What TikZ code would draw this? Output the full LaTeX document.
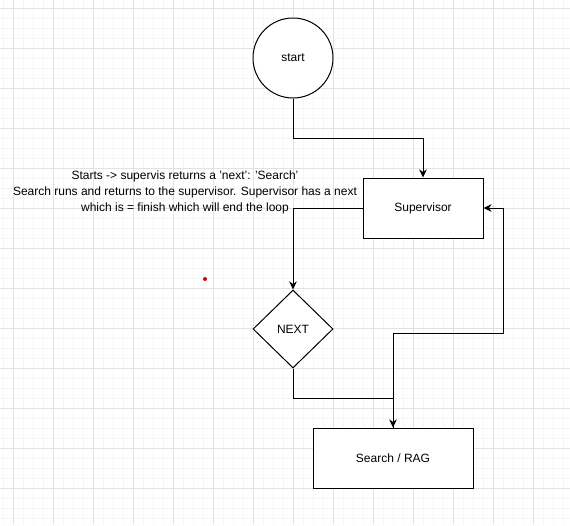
\documentclass[tikz,border=0pt]{standalone}
\usepackage{fontspec}
\setmainfont{Liberation Sans}
\usetikzlibrary{shapes.geometric,arrows.meta}

\definecolor{gridminor}{HTML}{F6F6F6}
\definecolor{gridmajor}{HTML}{E2E2E2}

\tikzset{
  box/.style={draw, line width=1pt, fill=white, rectangle, inner sep=0pt},
  roundnode/.style={draw, line width=1pt, fill=white, circle, inner sep=0pt, minimum size=80pt},
  decision/.style={draw, line width=1pt, fill=white, diamond, inner sep=0pt, minimum width=80pt, minimum height=78pt},
  flow/.style={line width=1pt, -{Stealth[length=8pt, width=7.5pt, inset=2.5pt]}},
  lbl/.style={font=\fontsize{12}{14}\selectfont},
  note/.style={align=center, font=\fontsize{12}{16}\selectfont, inner sep=0pt},
}

\begin{document}
\begin{tikzpicture}[x=1pt, y=-1pt]
  \useasboundingbox (0,0) rectangle (570,525);
  \fill[white] (0,0) rectangle (570,525);

  % background grid: light lines every 10, stronger every 40
  \foreach \x in {3,13,...,570} \draw[gridminor, line width=0.8pt] (\x,0) -- (\x,525);
  \foreach \y in {-2,8,...,525} \draw[gridminor, line width=0.8pt] (0,\y) -- (570,\y);
  \foreach \x in {13,53,...,570} \draw[gridmajor, line width=0.8pt] (\x,0) -- (\x,525);
  \foreach \y in {8,48,...,525} \draw[gridmajor, line width=0.8pt] (0,\y) -- (570,\y);

  % nodes
  \node[roundnode, lbl] (start) at (293,58) {start};
  \node[box, lbl, minimum width=120pt, minimum height=60pt] (sup) at (423,208) {Supervisor};
  \node[decision, lbl] (next) at (293,329) {NEXT};
  \node[box, lbl, minimum width=160pt, minimum height=60pt] (rag) at (393,458) {Search / RAG};

  \node[note] (expl) at (185,192) {Starts -> supervis returns a 'next': 'Search'\\
    Search runs and returns to the supervisor. Supervisor has a next\\
    which is = finish which will end the loop};

  % connectors
  \coordinate (loopright) at (503,333);
  \draw[flow] (start.south) -- ++(0,40) -| (sup.north);
  \draw[flow] (sup.west) -| (next.north);
  \draw[flow] (next.south) -- ++(0,30) -| (rag.north);
  \draw[flow] (rag.north) |- (loopright) |- (sup.east);

  % small marker
  \fill[red!90!black] (205,279) circle (2);
\end{tikzpicture}
\end{document}
